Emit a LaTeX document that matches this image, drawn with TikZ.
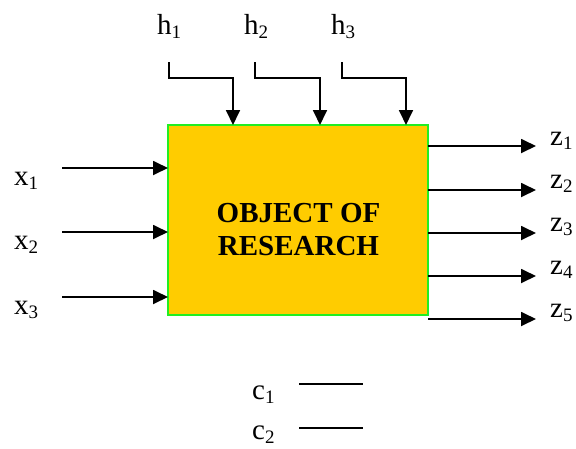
\documentclass[tikz,border=0pt]{standalone}
\usepackage{fontspec}
\setmainfont{Liberation Serif}
\usetikzlibrary{arrows.meta}
\newcommand{\lbl}[2]{#1\raisebox{-4pt}{\fontsize{19}{21}\selectfont #2}}
\definecolor{boxfill}{HTML}{FFCC00}
\definecolor{boxline}{HTML}{22EE22}
\begin{document}
\begin{tikzpicture}[x=1pt,y=-1pt,
  lab/.style={font=\fontsize{29}{32}\selectfont, inner sep=0pt, anchor=base west},
  arr/.style={line width=1.8pt, -{Triangle[length=15pt,width=14pt]}},
  title/.style={font=\fontsize{29}{32}\selectfont\bfseries, inner sep=0pt, anchor=base}]
\useasboundingbox (0,0) rectangle (576,448);
\node[draw=boxline, line width=1.8pt, fill=boxfill, minimum width=260pt, minimum height=190pt, inner sep=0pt] (box) at (298,220) {};
\node[title] (t1) at (298.5,222) {OBJECT OF};
\node[title] (t2) at (298.5,255) {RESEARCH};
% top inputs
\node[lab] (h1) at (157,34) {\lbl{h}{1}};
\node[lab] (h2) at (244,34) {\lbl{h}{2}};
\node[lab] (h3) at (331,34) {\lbl{h}{3}};
\coordinate (ha) at (169,62);
\coordinate (hb) at (255,62);
\coordinate (hc) at (342,62);
\coordinate (ta) at (233,125);
\coordinate (tb) at (320,125);
\coordinate (tc) at (406,125);
\draw[arr] (ha) |- (233,78) -- (ta);
\draw[arr] (hb) |- (320,78) -- (tb);
\draw[arr] (hc) |- (406,78) -- (tc);
% left inputs
\node[lab] (x1) at (14,185) {\lbl{x}{1}};
\node[lab] (x2) at (14,249) {\lbl{x}{2}};
\node[lab] (x3) at (14,314) {\lbl{x}{3}};
\foreach \y/\n in {168/1,232/2,297/3}{
  \coordinate (xs\n) at (62,\y);
  \coordinate (xe\n) at (168,\y);
  \draw[arr] (xs\n) -- (xe\n);
}
% right outputs
\foreach \y/\b/\n in {146/145/1,190/188/2,233/231/3,276/274/4,319/317/5}{
  \coordinate (zs\n) at (428,\y);
  \coordinate (ze\n) at (536,\y);
  \draw[arr] (zs\n) -- (ze\n);
  \node[lab] (z\n) at (550,\b) {\lbl{z}{\n}};
}
% bottom
\node[lab] (c1) at (252,399) {\lbl{c}{1}};
\node[lab] (c2) at (252,439) {\lbl{c}{2}};
\coordinate (ca) at (299,384);
\coordinate (cb) at (363,384);
\coordinate (cc) at (299,428);
\coordinate (cd) at (363,428);
\draw[line width=1.6pt] (ca) -- (cb);
\draw[line width=1.6pt] (cc) -- (cd);
\end{tikzpicture}
\end{document}
